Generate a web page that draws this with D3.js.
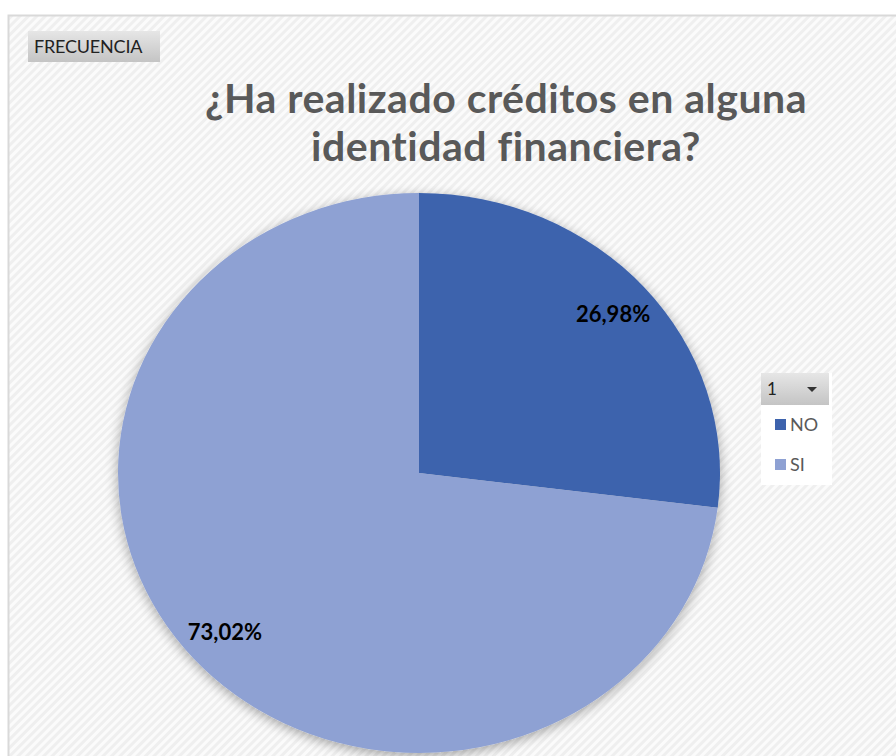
<!DOCTYPE html>
<html>
<meta charset="utf-8">
<style>
  body { margin: 0; background: #fff; }
  svg { display: block; font-family: Lato, "Open Sans", sans-serif; }
  .title { font-weight: bold; font-size: 41px; fill: #595959; letter-spacing: 0.5px; }
  .lbl { font-weight: bold; font-size: 22px; fill: #000; }
  .leg { font-size: 18px; fill: #595959; }
</style>
<body>
<script src="https://d3js.org/d3.v7.min.js"></script>
<script>
  // chart data
  const categories = ["NO", "SI"];
  const values = [26.98, 73.02];
  const labels = ["26,98%", "73,02%"];
  const colors = ["#3D63AD", "#8EA1D3"];
  const titleLines = ["¿Ha realizado créditos en alguna", "identidad financiera?"];

  let width = 896, height = 756;

  let svg = d3.select("body").append("svg")
    .attr("width", width)
    .attr("height", height);

  let defs = svg.append("defs");

  // light diagonal hatch background
  let pat = defs.append("pattern")
    .attr("id", "hatch")
    .attr("width", 6).attr("height", 6)
    .attr("patternUnits", "userSpaceOnUse")
    .attr("patternTransform", "rotate(45)");
  pat.append("rect").attr("width", 6).attr("height", 6).attr("fill", "#fbfbfb");
  pat.append("rect").attr("width", 3).attr("height", 6).attr("fill", "#efefef");

  let grad = defs.append("linearGradient")
    .attr("id", "btn").attr("x1", 0).attr("x2", 0).attr("y1", 0).attr("y2", 1);
  grad.append("stop").attr("offset", 0).attr("stop-color", "#e6e6e6");
  grad.append("stop").attr("offset", 1).attr("stop-color", "#c4c4c4");

  let shadow = defs.append("filter").attr("id", "shadow")
    .attr("x", "-20%").attr("y", "-20%").attr("width", "140%").attr("height", "140%");
  shadow.append("feGaussianBlur").attr("in", "SourceAlpha").attr("stdDeviation", 6);
  shadow.append("feOffset").attr("dx", 0).attr("dy", 3).attr("result", "b");
  shadow.append("feComponentTransfer").append("feFuncA").attr("type", "linear").attr("slope", 0.35);
  let m = shadow.append("feMerge");
  m.append("feMergeNode");
  m.append("feMergeNode").attr("in", "SourceGraphic");

  // frame
  svg.append("rect")
    .attr("x", 8.5).attr("y", 15.5)
    .attr("width", width + 10).attr("height", height)
    .attr("fill", "url(#hatch)")
    .attr("stroke", "#d9d9d9").attr("stroke-width", 2);

  // FRECUENCIA field button
  svg.append("rect")
    .attr("x", 28).attr("y", 31).attr("width", 132).attr("height", 31)
    .attr("fill", "url(#btn)");
  svg.append("text")
    .attr("x", 34).attr("y", 53)
    .style("font-size", "18px").style("letter-spacing", "-0.2px")
    .attr("fill", "#222")
    .text("FRECUENCIA");

  // title
  svg.append("text")
    .attr("class", "title")
    .attr("text-anchor", "middle")
    .selectAll("tspan")
    .data(titleLines)
    .join("tspan")
    .attr("x", 506)
    .attr("y", (d, i) => 113 + i * 48)
    .text(d => d);

  // pie (elliptical, as in the original)
  let cx = 419, cy = 473, ry = 280, rx = 301;
  let pie = d3.pie().sort(null).value(d => d.value);
  let arc = d3.arc().innerRadius(0).outerRadius(ry);
  let data = categories.map((c, i) => ({ name: c, value: values[i], label: labels[i], color: colors[i] }));
  let arcs = pie(data);

  let g = svg.append("g")
    .attr("transform", `translate(${cx},${cy})`);
  let pg = g.append("g")
    .attr("transform", `scale(${rx / ry},1)`)
    .attr("filter", "url(#shadow)");
  pg.selectAll("path")
    .data(arcs)
    .join("path")
    .attr("d", arc)
    .attr("fill", d => d.data.color);

  let labelArc = d3.arc().innerRadius(ry * 0.86).outerRadius(ry * 0.86);
  g.selectAll(".lbl")
    .data(arcs)
    .join("text")
    .attr("class", "lbl")
    .attr("text-anchor", "middle")
    .attr("x", d => labelArc.centroid(d)[0] * rx / ry)
    .attr("y", d => labelArc.centroid(d)[1] + 8)
    .text(d => d.data.label);

  // legend with dropdown header
  let lg = svg.append("g").attr("transform", "translate(761,373)");
  lg.append("rect").attr("width", 71).attr("height", 112).attr("fill", "#fff");
  lg.append("rect").attr("width", 68).attr("height", 32).attr("fill", "url(#btn)");
  lg.append("text").attr("x", 6).attr("y", 22)
    .style("font-size", "17px").attr("fill", "#222").text("1");
  lg.append("path").attr("d", "M46,14 L56,14 L51,19 Z").attr("fill", "#333");

  let items = lg.selectAll(".item")
    .data(data)
    .join("g")
    .attr("transform", (d, i) => `translate(14,${52 + i * 40})`);
  items.append("rect").attr("y", -6).attr("width", 11).attr("height", 11).attr("fill", d => d.color);
  items.append("text").attr("class", "leg").attr("x", 15).attr("y", 6).text(d => d.name);
</script>
</body>
</html>
